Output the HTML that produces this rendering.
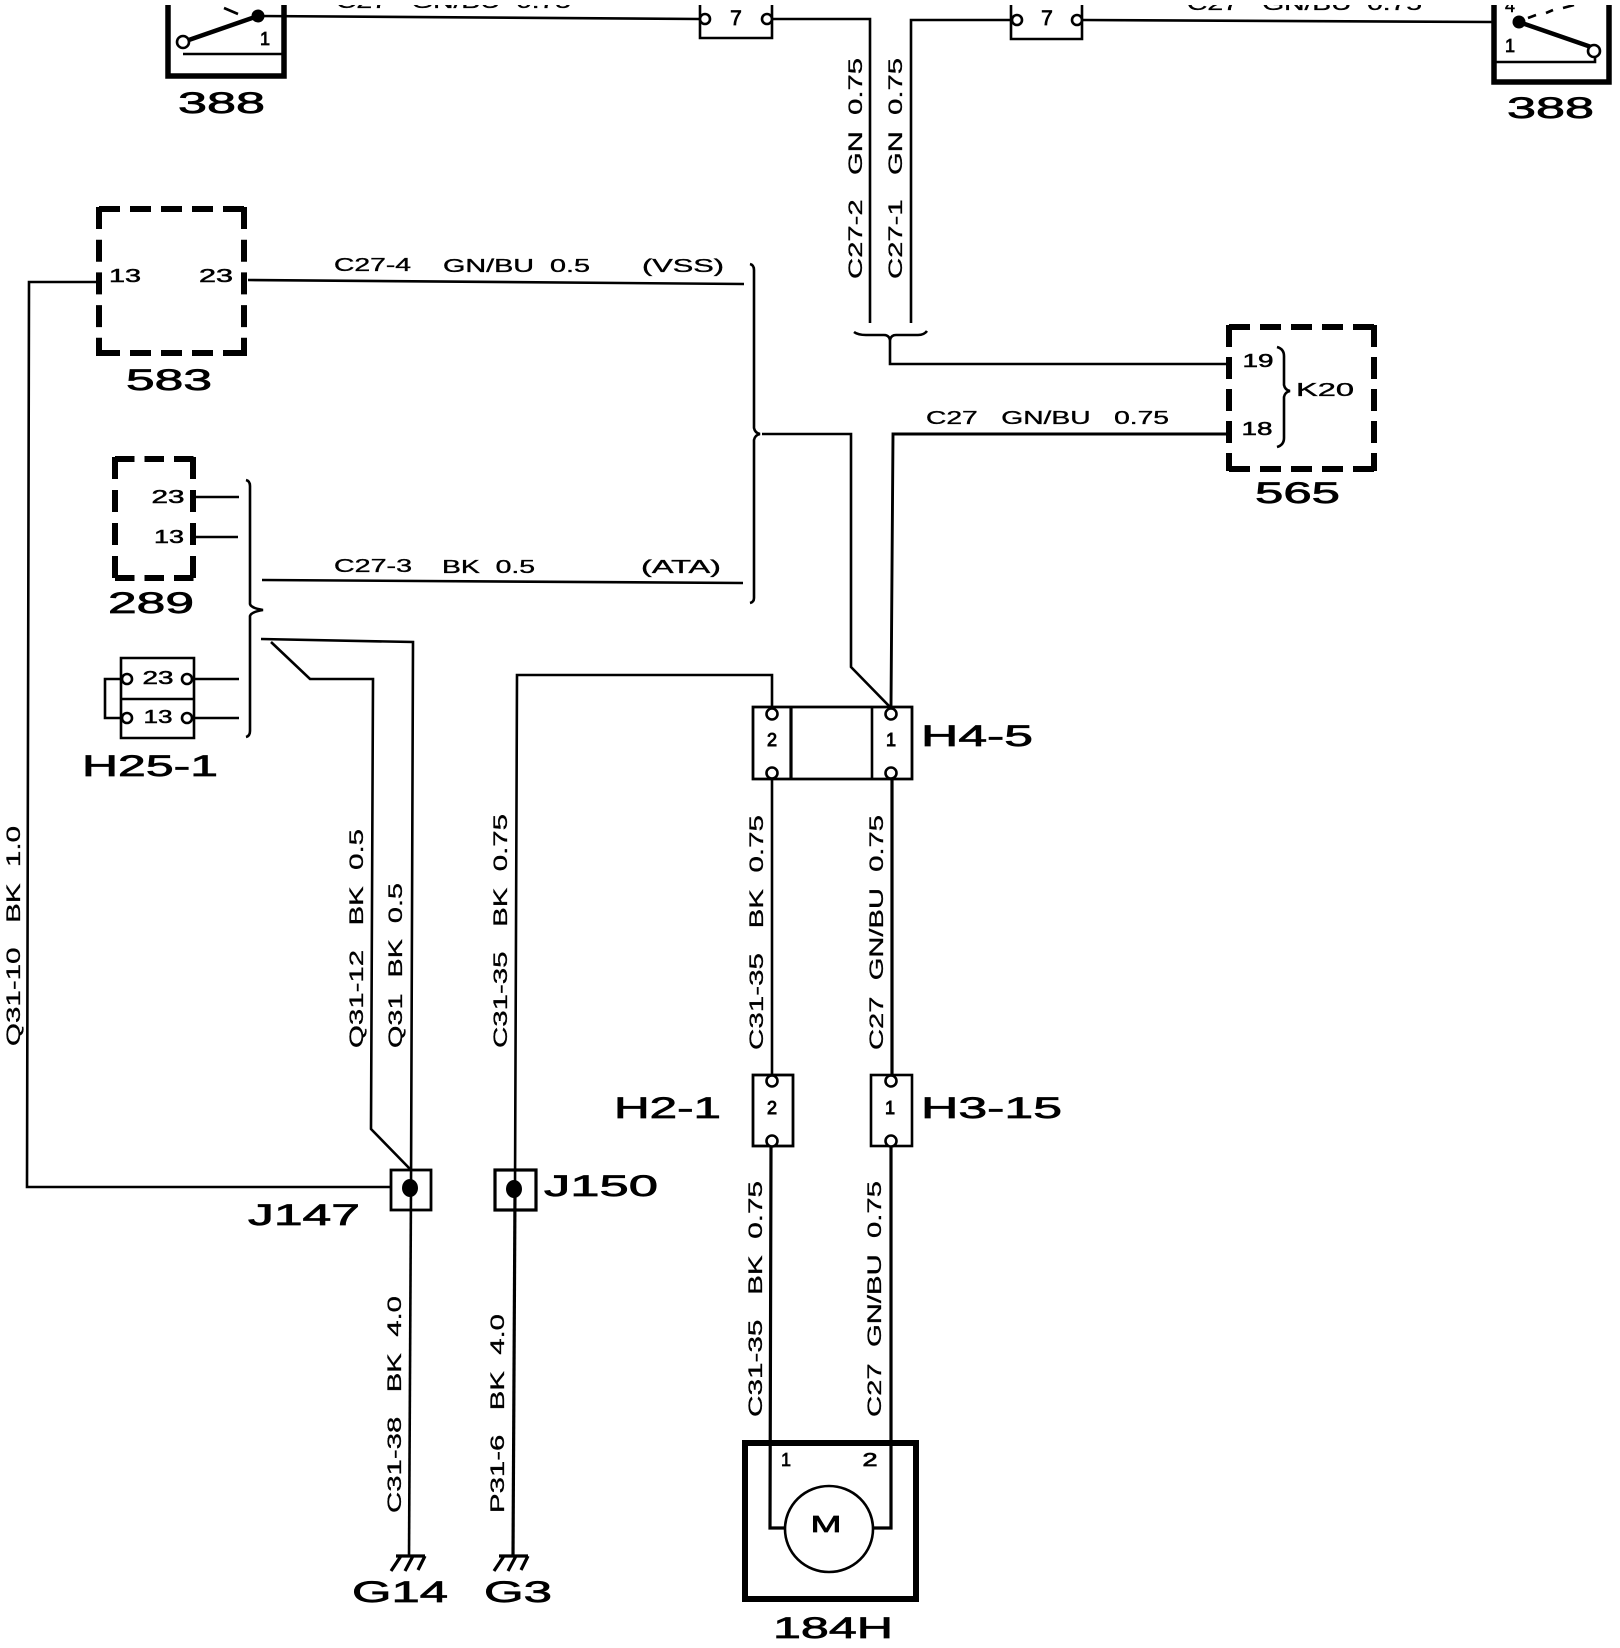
<!DOCTYPE html>
<html><head><meta charset="utf-8"><title>Wiring diagram</title>
<style>
html,body{margin:0;padding:0;background:#fff}
svg{display:block}
.w{fill:none;stroke:#000;stroke-width:2.6}
.t{fill:none;stroke:#000;stroke-width:3.2}
.b{fill:none;stroke:#000;stroke-width:5.5}
.d{fill:none;stroke:#000;stroke-width:6}
.c{fill:#fff;stroke:#000;stroke-width:2.6}
text{font-family:"Liberation Sans",sans-serif;fill:#000;white-space:pre;stroke:#000}
.L{font-size:30px;stroke-width:.7}
.s{font-size:18px;stroke-width:.35}
.r{font-size:19px;stroke-width:.3}
.p{font-size:18px;stroke-width:.5;text-anchor:middle}
</style></head><body>
<svg width="1620" height="1648" viewBox="0 0 1620 1648" xmlns="http://www.w3.org/2000/svg">
<defs><clipPath id="top"><rect x="0" y="5" width="1620" height="1643"/></clipPath></defs>
<rect width="1620" height="1648" fill="#fff"/>

<!-- top row -->
<g clip-path="url(#top)">
<text class="s" x="336" y="8" textLength="235" lengthAdjust="spacingAndGlyphs">C27   GN/BU  0.75</text>
<text class="s" x="1187" y="10" textLength="235" lengthAdjust="spacingAndGlyphs">C27   GN/BU  0.75</text>
<path class="b" d="M168 5V76H284V5"/>
<path class="w" d="M183 54H282"/>
<path class="t" d="M183 42L258 16" style="stroke-width:4.5"/>
<path class="w" d="M258 16L700 19"/>
<path d="M224 8L238 14" class="w"/>
<circle cx="258" cy="16" r="6.5"/>
<circle class="c" cx="183" cy="42" r="6"/>
<text class="p" x="265" y="45" style="stroke-width:.8">1</text>
<path class="w" d="M700 5V38H772V5"/>
<circle class="c" cx="705" cy="19" r="5"/>
<circle class="c" cx="767" cy="19" r="5"/>
<text class="p" x="736" y="25" style="font-size:21px;stroke-width:.8">7</text>
<path class="w" d="M772 19H870V323"/>
<path class="w" d="M1011 20H911V323"/>
<path class="w" d="M1011 5V39H1082V5"/>
<circle class="c" cx="1017" cy="20" r="5"/>
<circle class="c" cx="1077" cy="20" r="5"/>
<text class="p" x="1047" y="25" style="font-size:21px;stroke-width:.8">7</text>
<path class="w" d="M1082 20L1492 22"/>
<path class="b" d="M1494 5V82H1609V5"/>
<path class="w" d="M1494 62H1595V52"/>
<path class="t" d="M1519 22L1594 48" style="stroke-width:4.5"/>
<path class="w" d="M1528 18L1536 15M1546 13L1553 10M1563 8L1574 5"/>
<circle cx="1519" cy="22" r="6.5"/>
<circle class="c" cx="1594" cy="51" r="6"/>
<text class="p" x="1510" y="52" style="stroke-width:.8">1</text>
<text class="p" x="1510" y="12">4</text>
</g>
<text class="L" x="178" y="113" textLength="87" lengthAdjust="spacingAndGlyphs">388</text>
<text class="L" x="1507" y="118" textLength="87" lengthAdjust="spacingAndGlyphs">388</text>

<!-- vertical top labels -->
<text class="r" transform="translate(862,279) rotate(-90)" textLength="221" lengthAdjust="spacingAndGlyphs">C27-2   GN  0.75</text>
<text class="r" transform="translate(902,279) rotate(-90)" textLength="221" lengthAdjust="spacingAndGlyphs">C27-1   GN  0.75</text>

<!-- brace under C27 wires -->
<path class="w" d="M854 332Q858 335 866 335H884Q889 335 890 340Q891 335 896 335H918Q924 335 927 331"/>
<path class="w" d="M890 340V364H1227"/>

<!-- 565 -->
<line class="d" x1="1229" y1="327" x2="1374" y2="327" stroke-dasharray="21 10"/>
<line class="d" x1="1229" y1="469" x2="1374" y2="469" stroke-dasharray="21 10"/>
<line class="d" x1="1229" y1="325" x2="1229" y2="471" stroke-dasharray="22 10"/>
<line class="d" x1="1374" y1="325" x2="1374" y2="471" stroke-dasharray="22 10"/>
<text class="p" x="1258" y="367" textLength="31" lengthAdjust="spacingAndGlyphs">19</text>
<text class="p" x="1257" y="435" textLength="31" lengthAdjust="spacingAndGlyphs">18</text>
<text class="s" x="1296" y="396" textLength="58" lengthAdjust="spacingAndGlyphs">K20</text>
<path class="w" d="M1277 347Q1284 349 1284 356V385Q1285 390 1290 391Q1285 392 1284 397V438Q1284 445 1277 447"/>
<text class="L" x="1255" y="503" textLength="85" lengthAdjust="spacingAndGlyphs">565</text>

<!-- C27 GN/BU to 565 -->
<path class="w" d="M1227 434H893L891 707" style="stroke-width:2.9"/>
<text class="s" x="926" y="424" textLength="243" lengthAdjust="spacingAndGlyphs">C27   GN/BU   0.75</text>
<path class="w" d="M762 434H851V667L890 707"/>

<!-- 583 -->
<line class="d" x1="99" y1="209" x2="244" y2="209" stroke-dasharray="21 10"/>
<line class="d" x1="99" y1="353" x2="244" y2="353" stroke-dasharray="21 10"/>
<line class="d" x1="99" y1="207" x2="99" y2="356" stroke-dasharray="22 10.7"/>
<line class="d" x1="244" y1="207" x2="244" y2="356" stroke-dasharray="22 10.7"/>
<text class="p" x="125" y="282" textLength="32" lengthAdjust="spacingAndGlyphs">13</text>
<text class="p" x="216" y="282" textLength="34" lengthAdjust="spacingAndGlyphs">23</text>
<text class="L" x="126" y="390" textLength="86" lengthAdjust="spacingAndGlyphs">583</text>

<path class="w" d="M97 282H29L27 1187H391"/>
<path class="w" d="M248 280L744 284"/>
<text class="s" x="334" y="271" textLength="77" lengthAdjust="spacingAndGlyphs">C27-4</text>
<text class="s" x="443" y="272" textLength="147" lengthAdjust="spacingAndGlyphs">GN/BU  0.5</text>
<text class="s" x="642" y="272" textLength="82" lengthAdjust="spacingAndGlyphs">(VSS)</text>

<!-- big right brace -->
<path class="w" d="M750 264Q754 265 754 270V428Q755 433 760 434Q755 435 754 440V598Q754 602 750 603"/>

<path class="w" d="M262 580L743 583"/>
<text class="s" x="334" y="572" textLength="78" lengthAdjust="spacingAndGlyphs">C27-3</text>
<text class="s" x="442" y="573" textLength="93" lengthAdjust="spacingAndGlyphs">BK  0.5</text>
<text class="s" x="641" y="573" textLength="80" lengthAdjust="spacingAndGlyphs">(ATA)</text>

<!-- 289 -->
<line class="d" x1="115" y1="459" x2="194" y2="459" stroke-dasharray="19.5 10"/>
<line class="d" x1="115" y1="578" x2="194" y2="578" stroke-dasharray="19.5 10"/>
<line class="d" x1="115" y1="457" x2="115" y2="580" stroke-dasharray="22 11"/>
<line class="d" x1="193" y1="457" x2="193" y2="580" stroke-dasharray="22 11"/>
<text class="p" x="168" y="503" textLength="33" lengthAdjust="spacingAndGlyphs">23</text>
<text class="p" x="169" y="543" textLength="30" lengthAdjust="spacingAndGlyphs">13</text>
<path class="w" d="M196 497H239M196 537H238"/>
<text class="L" x="108" y="613" textLength="86" lengthAdjust="spacingAndGlyphs">289</text>

<!-- left brace -->
<path class="w" d="M246 480Q250 481 250 486V604Q251 608 263 610Q251 612 250 616V731Q250 736 246 737"/>

<!-- H25-1 -->
<path class="w" d="M121 658H194V738H121ZM121 699H194"/>
<path class="w" d="M121 679H105V718H121"/>
<circle class="c" cx="127" cy="679" r="5"/>
<circle class="c" cx="187" cy="679" r="5"/>
<circle class="c" cx="127" cy="718" r="5"/>
<circle class="c" cx="187" cy="718" r="5"/>
<path class="w" d="M193 679H239M193 718H239"/>
<text class="p" x="158" y="684" textLength="31" lengthAdjust="spacingAndGlyphs">23</text>
<text class="p" x="158" y="723" textLength="29" lengthAdjust="spacingAndGlyphs">13</text>
<text class="L" x="82" y="776" textLength="136" lengthAdjust="spacingAndGlyphs">H25-1</text>

<!-- Q31 wires -->
<path class="w" d="M261 639L413 642L411 1189"/>
<path class="w" d="M271 642L310 679H373L371 1129L411 1170"/>
<path class="w" d="M772 707V675H517L515 1190"/>
<path class="t" d="M515 1190L513 1557"/>
<path class="w" d="M411 1189L409 1557"/>

<!-- J147 J150 -->
<rect class="w" x="391" y="1170" width="40" height="40" style="stroke-width:2.8"/>
<ellipse cx="410" cy="1188" rx="8" ry="9"/>
<rect class="w" x="495" y="1170" width="41" height="40" style="stroke-width:3.2"/>
<ellipse cx="514" cy="1189" rx="8" ry="9"/>
<text class="L" x="248" y="1225" textLength="112" lengthAdjust="spacingAndGlyphs">J147</text>
<text class="L" x="544" y="1196" textLength="114" lengthAdjust="spacingAndGlyphs">J150</text>

<!-- ground -->
<path class="t" d="M396 1556H425M401 1556L391 1571M413 1556L405 1571M425 1556L418 1570"/>
<path class="t" d="M499 1556H528M504 1556L494 1571M516 1556L508 1571M528 1556L521 1570"/>
<text class="L" x="352" y="1602" textLength="96" lengthAdjust="spacingAndGlyphs">G14</text>
<text class="L" x="484" y="1602" textLength="68" lengthAdjust="spacingAndGlyphs">G3</text>

<!-- rotated labels -->
<text class="r" transform="translate(20,1046) rotate(-90)" textLength="220" lengthAdjust="spacingAndGlyphs">Q31-10   BK  1.0</text>
<text class="r" transform="translate(363,1048) rotate(-90)" textLength="219" lengthAdjust="spacingAndGlyphs">Q31-12   BK  0.5</text>
<text class="r" transform="translate(402,1048) rotate(-90)" textLength="165" lengthAdjust="spacingAndGlyphs">Q31  BK  0.5</text>
<text class="r" transform="translate(507,1048) rotate(-90)" textLength="234" lengthAdjust="spacingAndGlyphs">C31-35   BK  0.75</text>
<text class="r" transform="translate(763,1050) rotate(-90)" textLength="235" lengthAdjust="spacingAndGlyphs">C31-35   BK  0.75</text>
<text class="r" transform="translate(883,1050) rotate(-90)" textLength="235" lengthAdjust="spacingAndGlyphs">C27  GN/BU  0.75</text>
<text class="r" transform="translate(762,1417) rotate(-90)" textLength="236" lengthAdjust="spacingAndGlyphs">C31-35   BK  0.75</text>
<text class="r" transform="translate(881,1417) rotate(-90)" textLength="236" lengthAdjust="spacingAndGlyphs">C27  GN/BU  0.75</text>
<text class="r" transform="translate(401,1513) rotate(-90)" textLength="217" lengthAdjust="spacingAndGlyphs">C31-38   BK  4.0</text>
<text class="r" transform="translate(504,1513) rotate(-90)" textLength="199" lengthAdjust="spacingAndGlyphs">P31-6   BK  4.0</text>

<!-- H4-5 -->
<path class="w" d="M753 707H912V779H753Z" style="stroke-width:2.8"/>
<path class="w" d="M872 707V779"/>
<path class="t" d="M791 707V779"/>
<circle class="c" cx="772" cy="714" r="5.5"/>
<circle class="c" cx="772" cy="773" r="5.5"/>
<circle class="c" cx="891" cy="714" r="5.5"/>
<circle class="c" cx="891" cy="773" r="5.5"/>
<text class="p" x="772" y="746" style="stroke-width:.9">2</text>
<text class="p" x="891" y="746" style="stroke-width:.9">1</text>
<text class="L" x="921" y="746" textLength="112" lengthAdjust="spacingAndGlyphs">H4-5</text>

<!-- middle wires -->
<path class="w" d="M772 779V1075"/>
<path class="t" d="M892 779V1075"/>

<!-- H2-1 H3-15 -->
<rect class="w" x="753" y="1075" width="40" height="71" style="stroke-width:2.8"/>
<rect class="w" x="871" y="1075" width="41" height="71"/>
<circle class="c" cx="772" cy="1081" r="5.5"/>
<circle class="c" cx="772" cy="1141" r="5.5"/>
<circle class="c" cx="891" cy="1081" r="5.5"/>
<circle class="c" cx="891" cy="1141" r="5.5"/>
<text class="p" x="772" y="1114" style="stroke-width:.9">2</text>
<text class="p" x="890" y="1114" style="stroke-width:.9">1</text>
<text class="L" x="614" y="1118" textLength="107" lengthAdjust="spacingAndGlyphs">H2-1</text>
<text class="L" x="921" y="1118" textLength="141" lengthAdjust="spacingAndGlyphs">H3-15</text>

<!-- lower wires + motor -->
<path class="t" d="M771 1146L770 1528H787"/>
<path class="t" d="M891 1146V1528H874"/>
<rect class="b" x="745" y="1443" width="171" height="156" style="stroke-width:6"/>
<ellipse cx="829" cy="1529" rx="44" ry="43" fill="#fff" stroke="#000" stroke-width="2.6"/>
<text class="p" x="826" y="1532" style="font-size:23px;stroke-width:.7" textLength="31" lengthAdjust="spacingAndGlyphs">M</text>
<text class="p" x="786" y="1466" style="stroke-width:.7">1</text>
<text class="p" x="870" y="1466" textLength="15" lengthAdjust="spacingAndGlyphs" style="stroke-width:.7">2</text>
<text class="L" x="773" y="1638" textLength="120" lengthAdjust="spacingAndGlyphs">184H</text>
</svg>
</body></html>
